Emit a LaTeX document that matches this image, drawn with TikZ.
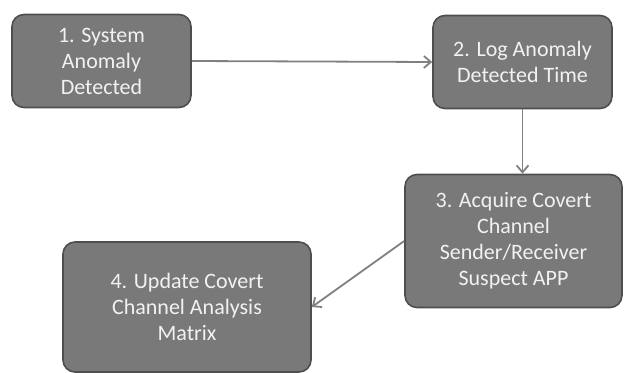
\documentclass[tikz,border=0pt]{standalone}
\usepackage{fontspec}
\setmainfont{Carlito}
\usetikzlibrary{arrows.meta,positioning}
\definecolor{boxgray}{RGB}{121,121,121}
\definecolor{edgegray}{RGB}{78,78,78}
\definecolor{linkgray}{RGB}{128,128,128}
\definecolor{textgray}{RGB}{242,242,242}
\tikzset{
  stepbox/.style={
    rectangle,
    rounded corners=12pt,
    draw=edgegray,
    line width=1.6pt,
    fill=boxgray,
    text=textgray,
    align=center,
    inner sep=2pt,
    font=\fontsize{22}{26}\selectfont
  },
  arrow/.style={-{Straight Barb[length=7pt,width=12pt]}, line width=1.8pt, draw=linkgray}
}
\begin{document}
\begin{tikzpicture}[x=1pt,y=-1pt]
        \useasboundingbox (0,0) rectangle (626,372);
        \node[stepbox, minimum width=179pt, minimum height=93pt] (detect) at (101.5,61) {1. System\\Anomaly\\Detected};
        \node[stepbox, minimum width=179pt, minimum height=93pt] (logtime) at (522.5,62) {2. Log Anomaly\\Detected Time};
        \node[stepbox, minimum width=217pt, minimum height=133pt] (acquire) at (513.5,241) {3. Acquire Covert\\Channel\\Sender/Receiver\\Suspect APP};
        \node[stepbox, minimum width=248pt, minimum height=130pt] (update) at (187,307) {4. Update Covert\\Channel Analysis\\Matrix};

        \draw[arrow] (detect.east) -- (logtime.west);
        \draw[arrow] (logtime.south) -- (logtime.south |- acquire.north);
        \draw[arrow] (acquire.west) -- (update.east);
      \end{tikzpicture}
\end{document}
